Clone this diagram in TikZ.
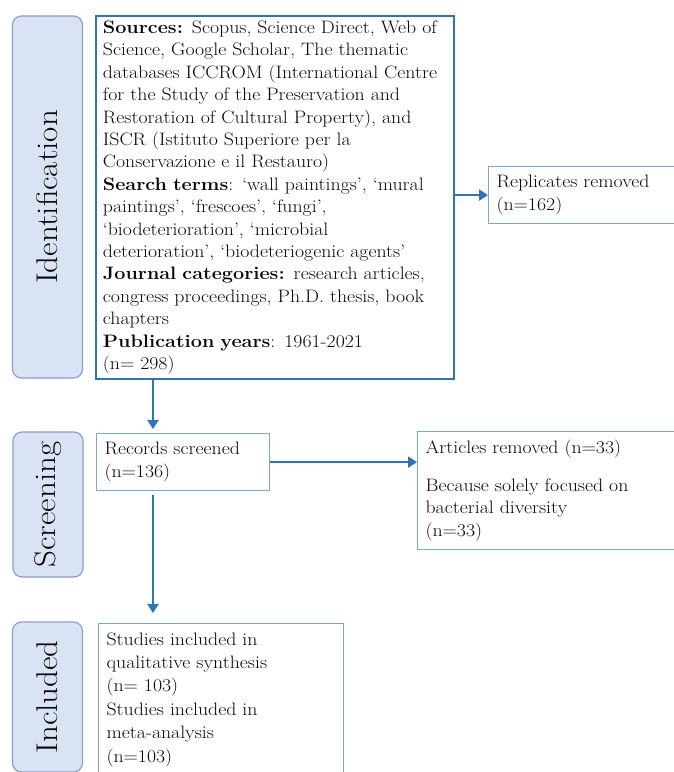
\documentclass[tikz,border=0pt]{standalone}
\usepackage{fontspec}
\setmainfont{Latin Modern Roman}[FakeStretch=1.1]
\usepackage{graphicx}
\usetikzlibrary{arrows.meta}
\definecolor{arrblue}{HTML}{2E75B6}
\definecolor{boxblue}{HTML}{7AA6DA}
\definecolor{phasefill}{HTML}{DAE3F3}
\definecolor{phaseline}{HTML}{8A9FCB}
\definecolor{txt}{HTML}{0A0A0A}
\begin{document}
\begin{tikzpicture}[x=1pt,y=-1pt,
  phase/.style={draw=phaseline, fill=phasefill, line width=1.2pt, rounded corners=9pt,
    inner sep=0pt, text=txt, minimum width=70pt, font=\fontsize{30}{34}\selectfont},
  mainbox/.style={draw=arrblue, line width=1.8pt, fill=white, inner xsep=7pt, inner ysep=0pt,
    align=left, text=txt, anchor=north west, font=\fontsize{18}{22.4}\selectfont},
  subbox/.style={draw=boxblue, line width=1.2pt, fill=white, inner xsep=8pt, inner ysep=0pt,
    align=left, text=txt, anchor=north west, font=\fontsize{18}{22.4}\selectfont},
  arr/.style={draw=arrblue, line width=2.6pt, -{Triangle[width=11pt,length=9pt]}}
]
\useasboundingbox (0,0) rectangle (673,772);

% phase labels
\node[phase, minimum height=362pt] (pid) at (47.5,197) {\rotatebox{90}{Identification}};
\node[phase, minimum height=145pt] (psc) at (48,504.5) {\rotatebox{90}{Screening}};
\node[phase, minimum height=150pt] (pin) at (47.5,697) {\rotatebox{90}{Included}};

% boxes
\node[mainbox, text width=344pt, minimum height=363pt] (src) at (95,15) {%
\textbf{Sources:} Scopus, Science Direct, Web of\\
Science, Google Scholar, The thematic\\
databases ICCROM (International Centre\\
for the Study of the Preservation and\\
Restoration of Cultural Property), and\\
ISCR (Istituto Superiore per la\\
Conservazione e il Restauro)\\
\textbf{Search terms}: ‘wall paintings’, ‘mural\\
paintings’, ‘frescoes’, ‘fungi’,\\
‘biodeterioration’, ‘microbial\\
deterioration’, ‘biodeteriogenic agents’\\
\textbf{Journal categories:} research articles,\\
congress proceedings, Ph.D. thesis, book\\
chapters\\
\textbf{Publication years}: 1961-2021\\
(n= 298)};

\node[subbox, text width=200pt, minimum height=57pt] (rep) at (488,166) {Replicates removed\\(n=162)};

\node[subbox, text width=157pt, minimum height=57pt] (rec) at (96,433) {Records screened\\(n=136)};

\node[subbox, text width=250pt, minimum height=118pt] (art) at (417,431) {%
Articles removed (n=33)\\[15pt]
Because solely focused on\\
bacterial diversity\\
(n=33)};

\node[subbox] (stu) at (98,623) {\parbox[t][172pt][t]{229pt}{\raggedright\fontsize{18}{23.4}\selectfont
\vspace*{9pt}Studies included in\\
qualitative synthesis\\
(n= 103)\\
Studies included in\\
meta-analysis\\
(n=103)}};

% connectors
\draw[arr, shorten >=4pt] ([xshift=58pt]src.south west) -- ([xshift=57pt]rec.north west);
\draw[arr] (src.east |- rep.west) -- (rep.west);
\draw[arr] (rec.east) -- (rec.east -| art.west);
\draw[arr, shorten <=4pt, shorten >=10pt] ([xshift=57pt]rec.south west) -- ([xshift=55pt]stu.north west);
\end{tikzpicture}
\end{document}
